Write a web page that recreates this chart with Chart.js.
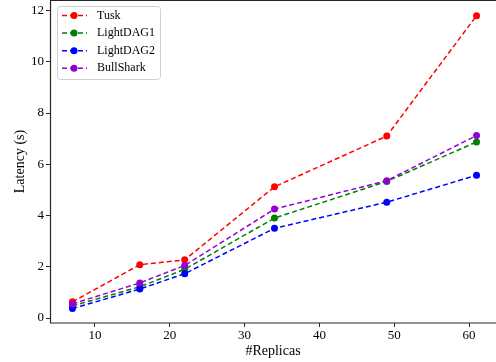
<!DOCTYPE html>
<html>
<head>
<meta charset="utf-8">
<script src="https://cdn.jsdelivr.net/npm/chart.js@4.4.0/dist/chart.umd.min.js"></script>
<style>
  html, body { margin: 0; padding: 0; background: #fff; }
  canvas { display: block; }
</style>
</head>
<body>
<canvas id="latencyChart" width="496" height="362"></canvas>
<script>
// dados
const replicas = [7, 16, 22, 34, 49, 61];
const tusk = [0.63, 2.08, 2.27, 5.12, 7.1, 11.8];
const lightDag1 = [0.47, 1.22, 1.9, 3.9, 5.33, 6.87];
const lightDag2 = [0.37, 1.13, 1.73, 3.5, 4.52, 5.57];
const bullShark = [0.55, 1.37, 2.05, 4.25, 5.36, 7.12];
const xTicks = [10, 20, 30, 40, 50, 60];
const yTicks = [0, 2, 4, 6, 8, 10, 12];

const serie = [
    { label: 'Tusk', valores: tusk, cor: '#ff0000', ordem: 3 },
    { label: 'LightDAG1', valores: lightDag1, cor: '#008000', ordem: 2 },
    { label: 'LightDAG2', valores: lightDag2, cor: '#0000ff', ordem: 1 },
    { label: 'BullShark', valores: bullShark, cor: '#9400d3', ordem: 0 }
];

const fonte = 'Liberation Serif, Times New Roman, serif';

function montaDataset(s) {
    return {
        label: s.label,
        data: replicas.map((x, i) => ({ x: x, y: s.valores[i] })),
        borderColor: s.cor,
        backgroundColor: s.cor,
        borderWidth: 1.5,
        borderDash: [5, 3],
        pointRadius: 3.5,
        pointBackgroundColor: s.cor,
        pointBorderColor: s.cor,
        pointBorderWidth: 0,
        tension: 0,
        fill: false,
        clip: false,
        order: s.ordem
    };
}

// moldura + legenda dentro da área do gráfico
const molduraPlugin = {
    id: 'moldura',
    afterDatasetsDraw(chart) {
        const ctx = chart.ctx;
        const a = chart.chartArea;
        ctx.save();
        ctx.strokeStyle = '#262626';
        ctx.lineWidth = 1.2;
        ctx.beginPath();
        ctx.moveTo(a.right, a.top + 0.5);
        ctx.lineTo(a.left + 0.5, a.top + 0.5);
        ctx.lineTo(a.left + 0.5, a.bottom);
        ctx.lineTo(a.right, a.bottom);
        ctx.stroke();

        // legenda
        const lx = a.left + 7, ly = a.top + 6, lw = 103, lh = 73;
        ctx.fillStyle = 'rgba(255,255,255,0.85)';
        ctx.strokeStyle = '#d0d0d0';
        ctx.lineWidth = 1;
        ctx.beginPath();
        ctx.roundRect(lx + 0.5, ly + 0.5, lw, lh, 3);
        ctx.fill();
        ctx.stroke();
        ctx.font = '12px ' + fonte;
        ctx.textBaseline = 'middle';
        serie.forEach((s, i) => {
            const y = ly + 9.5 + i * 17.6;
            ctx.strokeStyle = s.cor;
            ctx.lineWidth = 1.5;
            ctx.setLineDash([5, 3]);
            ctx.beginPath();
            ctx.moveTo(lx + 5, y);
            ctx.lineTo(lx + 30, y);
            ctx.stroke();
            ctx.setLineDash([]);
            ctx.fillStyle = s.cor;
            ctx.beginPath();
            ctx.arc(lx + 17, y, 3.5, 0, Math.PI * 2);
            ctx.fill();
            ctx.fillStyle = '#000';
            ctx.fillText(s.label, lx + 40, y);
        });
        ctx.restore();
    }
};

const ctx = document.getElementById('latencyChart').getContext('2d');
new Chart(ctx, {
    type: 'line',
    data: { datasets: serie.map(montaDataset) },
    options: {
        responsive: false,
        animation: false,
        layout: { autoPadding: false, padding: { top: 0, right: -2, left: 0, bottom: 0 } },
        plugins: {
            legend: { display: false },
            tooltip: { enabled: false }
        },
        scales: {
            x: {
                type: 'linear',
                min: 4.0,
                max: 63.6,
                afterBuildTicks: (scale) => { scale.ticks = xTicks.map(v => ({ value: v })); },
                afterFit: (scale) => {
                    scale.height = 39;
                    scale.paddingLeft = 0;
                    scale.paddingRight = 0;
                },
                border: { display: false },
                grid: { drawOnChartArea: false, drawTicks: true, tickLength: 4, color: '#262626' },
                ticks: { color: '#000', font: { family: fonte, size: 13 }, padding: 1, maxRotation: 0 },
                title: { display: true, text: '#Replicas', color: '#000', font: { family: fonte, size: 14 }, padding: { top: 0, bottom: 2 } }
            },
            y: {
                min: -0.195,
                max: 12.41,
                afterBuildTicks: (scale) => { scale.ticks = yTicks.map(v => ({ value: v })); },
                afterFit: (scale) => {
                    scale.width = 50;
                    scale.paddingTop = 0;
                    scale.paddingBottom = 0;
                },
                border: { display: false },
                grid: { drawOnChartArea: false, drawTicks: true, tickLength: 4, color: '#262626' },
                ticks: { color: '#000', font: { family: fonte, size: 13 }, padding: 2 },
                title: { display: true, text: 'Latency (s)', color: '#000', font: { family: fonte, size: 14 }, padding: { top: 12, bottom: 0 } }
            }
        }
    },
    plugins: [molduraPlugin]
});
</script>
</body>
</html>
